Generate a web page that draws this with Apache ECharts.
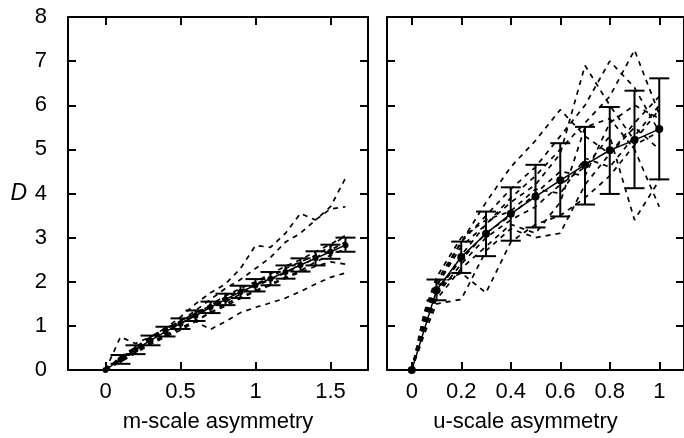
<!DOCTYPE html>
<html>
<head>
<meta charset="utf-8">
<script src="https://cdn.jsdelivr.net/npm/echarts@6/dist/echarts.min.js"></script>
<style>
  html, body { margin: 0; padding: 0; background: #fff; }
  #chart { width: 684px; height: 438px; }
</style>
</head>
<body>
<div id="chart"></div>
<script>
// m-scale panel: x positions of the averaged points and the averaged D
var mX = [0, 0.1, 0.2, 0.3, 0.4, 0.5, 0.6, 0.7, 0.8, 0.9, 1.0, 1.1, 1.2, 1.3, 1.4, 1.5, 1.6];
var mMean = [0, 0.24, 0.46, 0.67, 0.87, 1.05, 1.23, 1.42, 1.6, 1.77, 1.92, 2.07, 2.22, 2.38, 2.53, 2.68, 2.83];
var mLow  = [0, 0.14, 0.36, 0.56, 0.76, 0.93, 1.11, 1.29, 1.47, 1.63, 1.78, 1.92, 2.07, 2.23, 2.37, 2.52, 2.68];
var mHigh = [0, 0.34, 0.56, 0.78, 0.98, 1.17, 1.35, 1.55, 1.73, 1.91, 2.06, 2.22, 2.37, 2.53, 2.69, 2.84, 3.0];
// individual runs (dashed)
var mRuns = [
  [0, 0.25, 0.5, 0.72, 0.95, 1.2, 1.5, 1.75, 1.95, 2.3, 2.82, 2.78, 3.1, 3.55, 3.4, 3.7, 4.35],
  [0, 0.22, 0.48, 0.7, 0.9, 1.1, 1.35, 1.6, 1.85, 2.05, 2.3, 2.55, 2.9, 3.1, 3.4, 3.65, 3.7],
  [0, 0.25, 0.45, 0.62, 0.8, 0.95, 1.1, 0.92, 1.1, 1.3, 1.42, 1.52, 1.63, 1.78, 1.95, 2.1, 2.2],
  [0, 0.75, 0.6, 0.75, 0.95, 1.1, 1.3, 1.45, 1.65, 1.8, 1.95, 2.1, 2.3, 2.45, 2.6, 2.8, 3.05],
  [0, 0.2, 0.4, 0.6, 0.78, 0.95, 1.12, 1.3, 1.45, 1.62, 1.78, 1.92, 2.08, 2.22, 2.35, 2.45, 2.4],
  [0, 0.28, 0.5, 0.72, 0.92, 1.12, 1.28, 1.48, 1.68, 1.85, 2.0, 2.18, 2.35, 2.5, 2.68, 2.85, 3.05],
  [0, 0.18, 0.38, 0.58, 0.75, 0.9, 1.1, 1.3, 1.5, 1.65, 1.8, 1.95, 2.1, 2.25, 2.45, 2.6, 2.75],
  [0, 0.3, 0.52, 0.75, 0.95, 1.05, 1.25, 1.45, 1.55, 1.72, 1.9, 2.05, 2.2, 2.35, 2.55, 2.72, 2.9]
];

// u-scale panel
var uX = [0, 0.1, 0.2, 0.3, 0.4, 0.5, 0.6, 0.7, 0.8, 0.9, 1.0];
var uMean = [0, 1.81, 2.56, 3.09, 3.54, 3.93, 4.3, 4.65, 4.98, 5.21, 5.46];
var uLow  = [0, 1.58, 2.2, 2.58, 2.93, 3.23, 3.48, 3.75, 3.99, 4.12, 4.32];
var uHigh = [0, 2.05, 2.91, 3.59, 4.14, 4.65, 5.14, 5.51, 5.96, 6.33, 6.61];
var uRunX = [0, 0.05, 0.1, 0.2, 0.3, 0.4, 0.5, 0.6, 0.7, 0.8, 0.9, 1.0];
var uRuns = [
  [0, 1.1, 1.9, 2.8, 3.3, 3.9, 4.4, 5.0, 5.6, 6.2, 7.25, 5.8],
  [0, 1.0, 1.7, 2.6, 3.3, 3.8, 4.2, 4.9, 6.9, 6.0, 5.2, 5.9],
  [0, 1.2, 2.0, 2.9, 3.5, 4.1, 4.6, 5.3, 6.0, 7.0, 6.4, 5.4],
  [0, 1.1, 1.9, 2.9, 3.8, 4.6, 5.2, 5.9, 5.3, 4.9, 5.5, 5.0],
  [0, 0.9, 1.7, 2.4, 3.0, 3.4, 3.7, 4.2, 4.6, 5.3, 3.4, 4.3],
  [0, 0.9, 1.6, 2.3, 2.8, 3.3, 3.1, 3.8, 5.5, 5.7, 5.0, 3.7],
  [0, 1.2, 1.9, 2.2, 1.75, 2.9, 3.3, 3.5, 3.9, 4.4, 5.1, 5.4],
  [0, 0.8, 1.5, 1.6, 2.7, 3.2, 3.0, 3.1, 4.2, 4.9, 5.6, 6.2],
  [0, 1.0, 1.8, 2.5, 3.1, 3.5, 4.0, 4.5, 4.4, 5.6, 6.0, 5.7],
  [0, 1.3, 2.1, 3.0, 3.4, 3.6, 4.1, 4.0, 4.8, 4.6, 5.3, 6.0]
];

var mTicks = [0, 0.5, 1, 1.5];
var uTicks = [0, 0.2, 0.4, 0.6, 0.8, 1];

var FONT = 'Liberation Sans, Arial, sans-serif';
var black = { color: '#000', width: 2 };

function pairs(xs, ys) {
  return xs.map(function (x, i) { return [x, ys[i]]; });
}
function bars(xs, lo, hi) {
  return xs.map(function (x, i) { return [x, lo[i], hi[i]]; });
}

function errRender(params, api) {
  var x = api.value(0);
  var pLo = api.coord([x, api.value(1)]);
  var pHi = api.coord([x, api.value(2)]);
  var hw = 10;
  var st = { stroke: '#000', lineWidth: 2 };
  return {
    type: 'group',
    children: [
      { type: 'line', shape: { x1: pLo[0], y1: pLo[1], x2: pHi[0], y2: pHi[1] }, style: st },
      { type: 'line', shape: { x1: pHi[0] - hw, y1: pHi[1], x2: pHi[0] + hw, y2: pHi[1] }, style: st },
      { type: 'line', shape: { x1: pLo[0] - hw, y1: pLo[1], x2: pLo[0] + hw, y2: pLo[1] }, style: st }
    ]
  };
}

function xAx(grid, pos, min, max, ticks, name, labels) {
  return {
    gridIndex: grid, type: 'value', position: pos, min: min, max: max,
    axisLine: { onZero: false, lineStyle: black },
    axisTick: { inside: true, length: 8, customValues: ticks, lineStyle: black },
    axisLabel: { show: labels, customValues: ticks, fontSize: 22, margin: 11, color: '#000', fontFamily: FONT },
    splitLine: { show: false },
    name: name, nameLocation: 'middle', nameGap: 41,
    nameTextStyle: { fontSize: 22, color: '#000', fontFamily: FONT, padding: grid === 1 ? [0, 20, 0, 0] : 0 }
  };
}
function yAx(grid, pos, labels, name) {
  return {
    gridIndex: grid, type: 'value', position: pos, min: 0, max: 8, interval: 1,
    axisLine: { onZero: false, lineStyle: black },
    axisTick: { inside: true, length: 8, lineStyle: black },
    axisLabel: { show: labels, fontSize: 22, margin: 21, color: '#000', fontFamily: FONT },
    splitLine: { show: false },
    name: name, nameLocation: 'middle', nameRotate: 0, nameGap: 41,
    nameTextStyle: { fontSize: 23, fontStyle: 'italic', color: '#000', fontFamily: FONT }
  };
}

var series = [];
mRuns.forEach(function (r) {
  series.push({
    type: 'line', xAxisIndex: 0, yAxisIndex: 0, data: pairs(mX, r), symbol: 'none',
    lineStyle: { color: '#000', width: 1.7, type: [5, 5] }, silent: true, z: 2
  });
});
uRuns.forEach(function (r) {
  series.push({
    type: 'line', xAxisIndex: 2, yAxisIndex: 2, data: pairs(uRunX, r), symbol: 'none',
    lineStyle: { color: '#000', width: 1.7, type: [5, 5] }, silent: true, z: 2
  });
});
series.push({
  type: 'custom', xAxisIndex: 0, yAxisIndex: 0, renderItem: errRender,
  encode: { x: 0, y: [1, 2] }, data: bars(mX, mLow, mHigh), z: 3
});
series.push({
  type: 'custom', xAxisIndex: 2, yAxisIndex: 2, renderItem: errRender,
  encode: { x: 0, y: [1, 2] }, data: bars(uX, uLow, uHigh), z: 3
});
series.push({
  type: 'line', xAxisIndex: 0, yAxisIndex: 0, data: pairs(mX, mMean),
  symbol: 'circle', symbolSize: 6, itemStyle: { color: '#000' },
  lineStyle: { color: '#000', width: 1.5 }, z: 4
});
series.push({
  type: 'line', xAxisIndex: 2, yAxisIndex: 2, data: pairs(uX, uMean),
  symbol: 'circle', symbolSize: 8, itemStyle: { color: '#000' },
  lineStyle: { color: '#000', width: 1.5 }, z: 4
});

var chart = echarts.init(document.getElementById('chart'));
chart.setOption({
  animation: false,
  backgroundColor: '#fff',
  grid: [
    { left: 68, top: 17, width: 300, height: 355 },
    { left: 387, top: 17, width: 301, height: 355 }
  ],
  xAxis: [
    xAx(0, 'bottom', -0.25, 1.75, mTicks, 'm-scale asymmetry', true),
    xAx(0, 'top', -0.25, 1.75, mTicks, '', false),
    xAx(1, 'bottom', -0.1, 1.1, uTicks, 'u-scale asymmetry', true),
    xAx(1, 'top', -0.1, 1.1, uTicks, '', false)
  ],
  yAxis: [
    yAx(0, 'left', true, 'D'),
    yAx(0, 'right', false, ''),
    yAx(1, 'left', false, ''),
    yAx(1, 'right', false, '')
  ],
  series: series
});
</script>
</body>
</html>
